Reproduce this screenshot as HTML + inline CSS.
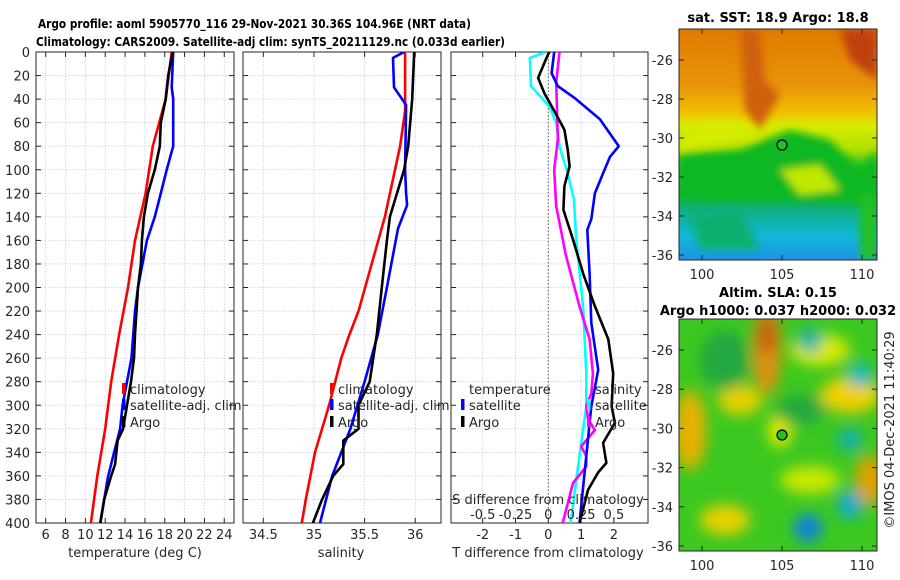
<!DOCTYPE html>
<html><head><meta charset="utf-8"><style>
html,body{margin:0;padding:0;background:#fff;}
svg{display:block;font-family:"DejaVu Sans","Liberation Sans",sans-serif;}
.t{font-size:13px;fill:#262626;}
.b{font-size:13px;font-weight:bold;fill:#000;}
.h{font-size:12.5px;font-weight:bold;fill:#000;}
</style></head><body>
<svg id="fig" width="900" height="580" viewBox="0 0 900 580">
<defs>
<clipPath id="c1"><rect x="36" y="52" width="198" height="471"/></clipPath>
<clipPath id="c2"><rect x="243" y="52" width="198" height="471"/></clipPath>
<clipPath id="c3"><rect x="451" y="52" width="197" height="471"/></clipPath>
<clipPath id="cm1"><rect x="679" y="29" width="198" height="231"/></clipPath>
<clipPath id="cm2"><rect x="679" y="319" width="198" height="232"/></clipPath>
<filter id="bl" x="-20%" y="-20%" width="140%" height="140%"><feGaussianBlur stdDeviation="7"/></filter>
<filter id="bl2" x="-20%" y="-20%" width="140%" height="140%"><feGaussianBlur stdDeviation="4"/></filter>
<linearGradient id="sstg" x1="0" y1="0" x2="0" y2="1">
<stop offset="0" stop-color="#e07a00"/><stop offset="0.25" stop-color="#e8960a"/><stop offset="0.36" stop-color="#f0c000"/>
<stop offset="0.42" stop-color="#d8ec00"/><stop offset="0.52" stop-color="#b0e000"/><stop offset="0.6" stop-color="#20c020"/>
<stop offset="0.72" stop-color="#10b040"/><stop offset="0.8" stop-color="#10b090"/><stop offset="0.9" stop-color="#10b8d8"/><stop offset="1" stop-color="#2090e8"/>
</linearGradient>
</defs>
<g>
<text class="h" x="38" y="28" textLength="433" lengthAdjust="spacingAndGlyphs">Argo profile: aoml 5905770_116 29-Nov-2021 30.36S 104.96E (NRT data)</text>
<text class="h" x="36" y="46" textLength="469" lengthAdjust="spacingAndGlyphs">Climatology: CARS2009. Satellite-adj clim: synTS_20211129.nc (0.033d earlier)</text>
</g>
<g id="p1"></g>
<g id="p2"></g>
<g id="p3"></g>
<g id="m1">
<text class="b" x="778" y="22" text-anchor="middle">sat. SST: 18.9 Argo: 18.8</text>
<g clip-path="url(#cm1)">
<rect x="679" y="29" width="198" height="231" fill="url(#sstg)"/>
<g filter="url(#bl2)">
<path d="M740 29 L760 29 L765 80 L780 95 L760 130 L745 110 Z" fill="#d06010"/>
<path d="M840 29 L877 29 L877 80 L850 60 Z" fill="#c04008"/>
<path d="M679 140 L720 120 L760 135 L679 150 Z" fill="#d8ec00"/>
<path d="M679 155 L740 150 L790 130 L830 140 L860 170 L877 150 L877 205 L800 200 L679 200 Z" fill="#10b820"/>
<path d="M780 170 L820 165 L840 190 L800 195 Z" fill="#c0e800"/>
<path d="M690 215 L740 210 L760 250 L700 250 Z" fill="#10b070"/>
<path d="M860 195 L877 195 L877 260 L860 260 Z" fill="#20c020"/>
</g>
</g>
<rect x="679" y="29" width="198" height="231" fill="none" stroke="#262626" stroke-width="1"/>
<circle cx="782" cy="145" r="5" fill="#20c020" stroke="#000" stroke-width="1.2"/>
</g>
<g id="m2">
<text class="b" x="778" y="297" text-anchor="middle">Altim. SLA: 0.15</text>
<text class="b" x="778" y="315" text-anchor="middle">Argo h1000: 0.037 h2000: 0.032</text>
<g clip-path="url(#cm2)">
<rect x="679" y="319" width="198" height="232" fill="#3cc820"/>
<g filter="url(#bl)">
<ellipse cx="767" cy="350" rx="14" ry="45" fill="#e09010"/>
<ellipse cx="767" cy="335" rx="10" ry="20" fill="#c86010"/>
<ellipse cx="690" cy="430" rx="16" ry="40" fill="#e8b000"/>
<ellipse cx="740" cy="400" rx="22" ry="15" fill="#e8d000"/>
<ellipse cx="850" cy="395" rx="30" ry="18" fill="#f0d000"/>
<ellipse cx="820" cy="350" rx="30" ry="16" fill="#d8e800"/>
<ellipse cx="725" cy="520" rx="25" ry="15" fill="#e8d000"/>
<ellipse cx="870" cy="480" rx="15" ry="25" fill="#e0a000"/>
<ellipse cx="780" cy="430" rx="12" ry="18" fill="#e0e800"/>
<ellipse cx="810" cy="480" rx="30" ry="14" fill="#c8e800"/>
<ellipse cx="810" cy="340" rx="12" ry="12" fill="#10b0b0"/>
<ellipse cx="860" cy="375" rx="12" ry="12" fill="#10b8c8"/>
<ellipse cx="850" cy="440" rx="12" ry="12" fill="#10b0b0"/>
<ellipse cx="850" cy="505" rx="12" ry="14" fill="#10a8d8"/>
<ellipse cx="808" cy="528" rx="14" ry="14" fill="#1080e0"/>
<ellipse cx="725" cy="360" rx="25" ry="30" fill="#20a840"/>
<ellipse cx="800" cy="410" rx="25" ry="15" fill="#20a840"/>
</g>
</g>
<rect x="679" y="319" width="198" height="232" fill="none" stroke="#262626" stroke-width="1"/>
<circle cx="782" cy="435" r="5" fill="#20c020" stroke="#000" stroke-width="1.2"/>
<text class="t" transform="translate(894,430) rotate(-90)" text-anchor="middle">©IMOS 04-Dec-2021 11:40:29</text>
</g>
</svg>
<script>
// ---- profile data (depth in dbar) ----
const depthClimT = [0,40,80,120,160,200,240,280,320,360,400];
const tempClim   = [18.7,18.1,16.8,16.07,15.0,14.3,13.4,12.6,12.0,11.2,10.56];
const depthArgoT = [0,20,40,60,80,100,120,140,160,180,200,240,260,280,300,320,330,350,360,380,400];
const tempArgo   = [18.8,18.35,18.1,17.6,17.5,17.0,16.3,15.9,15.7,15.6,15.3,15.0,14.9,14.6,14.2,13.8,13.25,13.0,12.6,11.9,11.5];
const depthSatT  = [0,30,40,80,100,120,140,160,200,220,260,280,300,320,340,360,380,400];
const tempSat    = [18.85,18.7,18.85,18.85,18.2,17.6,17.0,16.2,15.3,15.0,14.65,14.2,13.75,13.5,12.9,12.3,11.9,11.5];
const depthClimS = [0,50,80,100,140,180,220,240,260,300,340,380,400];
const salClim    = [35.90,35.90,35.85,35.80,35.70,35.57,35.44,35.35,35.27,35.15,35.01,34.92,34.88];
const depthArgoS = [0,40,80,100,120,140,160,200,240,280,300,320,330,350,360,380,400];
const salArgo    = [35.99,35.97,35.93,35.89,35.82,35.75,35.72,35.67,35.62,35.55,35.44,35.44,35.29,35.29,35.19,35.08,34.99];
const depthSatS  = [0,5,30,45,100,120,130,150,200,240,280,320,360,400];
const salSat     = [35.89,35.78,35.79,35.91,35.90,35.91,35.92,35.83,35.72,35.63,35.50,35.36,35.18,35.06];
const depthDT1 = [0,18,29,39,57,80,89,103,120,142,151,188,230,270,301,343,400];
const dTsat    = [0.18,0.1,0.29,0.8,1.57,2.15,1.88,1.67,1.42,1.31,1.19,1.26,1.31,1.52,1.31,1.16,0.95];
const depthDT2 = [0,6,22,35,50,66,83,97,114,134,159,188,216,244,273,301,315,332,349,357,372,400];
const dTargo   = [0.03,-0.07,-0.31,-0.12,0.18,0.49,0.59,0.65,0.49,0.46,0.75,1.06,1.42,1.83,1.98,1.93,2.03,1.67,1.77,1.52,1.21,0.95];
const depthDS1 = [0,5,29,46,60,80,103,125,159,216,273,301,343,400];
const dSsat    = [-0.018,-0.14,-0.133,0.008,0.06,0.085,0.148,0.195,0.213,0.265,0.29,0.29,0.238,0.17];
const depthDS2 = [0,26,74,100,131,173,216,244,273,290,301,312,321,335,343,352,366,400];
const dSargo   = [0.085,0.06,0.073,0.045,0.06,0.135,0.238,0.315,0.34,0.328,0.29,0.303,0.355,0.25,0.29,0.29,0.188,0.11];
const depthTicks = [0,20,40,60,80,100,120,140,160,180,200,220,240,260,280,300,320,340,360,380,400];
const tempTicks = [6,8,10,12,14,16,18,20,22,24];
const salTicks = [34.5,35,35.5,36];
const salTickLabels = ['34.5','35','35.5','36'];
const dTTicks = [-2,-1,0,1,2];
const dSTicks = [-0.5,-0.25,0,0.25,0.5];
const dSTickLabels = ['-0.5','-0.25','0','0.25','0.5'];
const mapLatTicks = [-26,-28,-30,-32,-34,-36];
const mapLonTicks = [100,105,110];

const NS='http://www.w3.org/2000/svg';
function mk(tag,attrs,parent,txt){const e=document.createElementNS(NS,tag);for(const k in attrs)e.setAttribute(k,attrs[k]);if(txt!==undefined)e.textContent=txt;parent.appendChild(e);return e;}
const Y0=52,Y1=523;
function yD(d){return Y0+d*(Y1-Y0)/400;}
function xT(t){return 45.7+(t-6)*9.92;}
function xS(s){return 263.3+(s-34.5)*101.3;}
function xDT(v){return 548.3+v*32.8;}
function xDS(v){return 548.3+v*4*32.8;}

function panel(g,x0,w,vticks,xf,clip){
  depthTicks.forEach(d=>{const l=mk('line',{x1:x0,x2:x0+w,y1:yD(d),y2:yD(d),stroke:'#c8cde8','stroke-width':0.8,'stroke-dasharray':'1.5 1.5'},g);
    
    });
  vticks.forEach(v=>{const l=mk('line',{x1:xf(v),x2:xf(v),y1:Y0,y2:Y1,stroke:'#c8cde8','stroke-width':0.8,'stroke-dasharray':'1.5 1.5'},g);
    
    });
  depthTicks.forEach(d=>{mk('line',{x1:x0,x2:x0+5,y1:yD(d),y2:yD(d),stroke:'#262626'},g);mk('line',{x1:x0+w-5,x2:x0+w,y1:yD(d),y2:yD(d),stroke:'#262626'},g);});
  vticks.forEach(v=>{mk('line',{x1:xf(v),x2:xf(v),y1:Y1,y2:Y1-5,stroke:'#262626'},g);mk('line',{x1:xf(v),x2:xf(v),y1:Y0,y2:Y0+5,stroke:'#262626'},g);});
  const f=mk('rect',{x:x0,y:Y0,width:w,height:Y1-Y0,fill:'none',stroke:'#262626','stroke-width':1},g);
  
  
  return mk('g',{'clip-path':'url(#'+clip+')'},g);
}
function line(g,xs,ds,xf,col,name){
  const pts=xs.map((v,i)=>xf(v).toFixed(1)+','+yD(ds[i]).toFixed(1)).join(' ');
  const p=mk('polyline',{points:pts,fill:'none',stroke:col,'stroke-width':2.6,'stroke-linejoin':'round'},g);
  
  
}
function legend(g,x,y,col,label,name){
  if(col){mk('rect',{x:x-2,y:y-6,width:3.5,height:11,fill:col},g);}
  const t=mk('text',{class:'t',x:x+6,y:y+5},g,label);
  
  
}
const TY=539, AY=557;
// Panel 1
const g1=document.getElementById('p1');
const c1=panel(g1,36,198,tempTicks,xT,'c1');
line(c1,tempClim,depthClimT,xT,'#ff0000','temp-climatology-line');
line(c1,tempSat,depthSatT,xT,'#0000ff','temp-satellite-line');
line(c1,tempArgo,depthArgoT,xT,'#000000','temp-argo-line');
depthTicks.forEach(d=>{const t=mk('text',{class:'t',x:30,y:yD(d)+5,'text-anchor':'end'},g1,String(d));
  
  });
tempTicks.forEach(v=>{const t=mk('text',{class:'t',x:xT(v),y:TY,'text-anchor':'middle'},g1,String(v));
  
  });
mk('text',{class:'t',x:135,y:AY,'text-anchor':'middle',},g1,'temperature (deg C)');
legend(g1,124,389,'#ff0000','climatology','legend-climatology');
legend(g1,124,405,'#0000ff','satellite-adj. clim','legend-satellite');
legend(g1,124,422,'#000000','Argo','legend-argo');

// Panel 2
const g2=document.getElementById('p2');
const c2=panel(g2,243,198,salTicks,xS,'c2');
line(c2,salClim,depthClimS,xS,'#ff0000','sal-climatology-line');
line(c2,salSat,depthSatS,xS,'#0000ff','sal-satellite-line');
line(c2,salArgo,depthArgoS,xS,'#000000','sal-argo-line');
salTicks.forEach((v,i)=>{const t=mk('text',{class:'t',x:xS(v),y:TY,'text-anchor':'middle'},g2,salTickLabels[i]);
  
  });
mk('text',{class:'t',x:341,y:AY,'text-anchor':'middle',},g2,'salinity');
legend(g2,332,389,'#ff0000','climatology','legend-climatology');
legend(g2,332,405,'#0000ff','satellite-adj. clim','legend-satellite');
legend(g2,332,422,'#000000','Argo','legend-argo');

// Panel 3
const g3=document.getElementById('p3');
const c3=panel(g3,451,197,dTTicks,xDT,'c3');
mk('line',{x1:xDT(0),x2:xDT(0),y1:Y0,y2:Y1,stroke:'#556040','stroke-width':1,'stroke-dasharray':'1.5 2'},c3);
line(c3,dSsat,depthDS1,xDS,'#00ffff','sdiff-satellite-line');
line(c3,dSargo,depthDS2,xDS,'#ff00ff','sdiff-argo-line');
line(c3,dTsat,depthDT1,xDT,'#0000ff','tdiff-satellite-line');
line(c3,dTargo,depthDT2,xDT,'#000000','tdiff-argo-line');
dTTicks.forEach(v=>{const t=mk('text',{class:'t',x:xDT(v),y:TY,'text-anchor':'middle'},g3,String(v));
  
  });
dSTicks.forEach((v,i)=>{const t=mk('text',{class:'t',x:xDS(v),y:519,'text-anchor':'middle'},g3,dSTickLabels[i]);
  
  });
mk('text',{class:'t',x:548,y:504,'text-anchor':'middle',},g3,'S difference from climatology');
mk('text',{class:'t',x:548,y:AY,'text-anchor':'middle',},g3,'T difference from climatology');
legend(g3,463,389,null,'temperature','legend-temperature');
legend(g3,463,405,'#0000ff','satellite','legend-t-satellite');
legend(g3,463,422,'#000000','Argo','legend-t-argo');
legend(g3,589,389,null,'salinity','legend-salinity');
legend(g3,589,405,'#00ffff','satellite','legend-s-satellite');
legend(g3,589,422,'#ff00ff','Argo','legend-s-argo');

// Map axes
function mapAxes(g,top,bot,lat26y,latStep){
  mapLatTicks.forEach(v=>{const y=lat26y+(-26-v)*latStep;
    mk('line',{x1:679,x2:684,y1:y,y2:y,stroke:'#262626'},g);mk('line',{x1:872,x2:877,y1:y,y2:y,stroke:'#262626'},g);
    const t=mk('text',{class:'t',x:673,y:y+5,'text-anchor':'end'},g,String(v));
    
    });
  mapLonTicks.forEach(v=>{const x=702+(v-100)*16;
    mk('line',{x1:x,x2:x,y1:bot,y2:bot-5,stroke:'#262626'},g);mk('line',{x1:x,x2:x,y1:top,y2:top+5,stroke:'#262626'},g);
    const t=mk('text',{class:'t',x:x,y:bot+19,'text-anchor':'middle'},g,String(v));
    
    });
}
mapAxes(document.getElementById('m1'),29,260,60,19.5);
mapAxes(document.getElementById('m2'),319,551,350,19.6);
</script>
</body></html>
